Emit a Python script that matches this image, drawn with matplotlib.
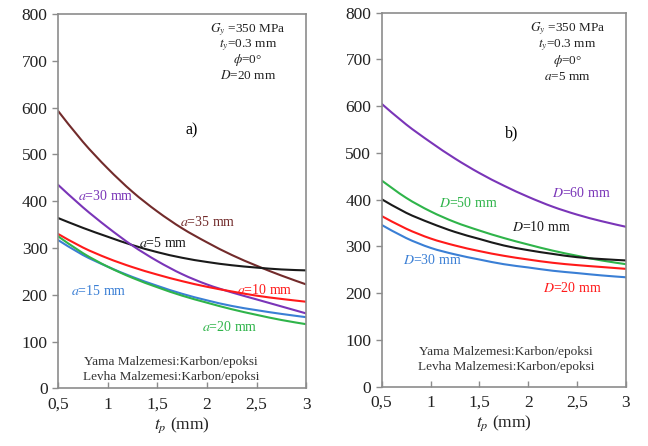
import numpy as np
import matplotlib
matplotlib.use("Agg")
from matplotlib import pyplot as plt
from matplotlib.path import Path
from matplotlib.patches import PathPatch

plt.rcParams["font.family"] = ["Liberation Serif", "DejaVu Serif"]
plt.rcParams["mathtext.fontset"] = "stix"

# data
tp = [0.5, 0.75, 1.0, 1.25, 1.5, 1.75, 2.0, 2.25, 2.5, 2.75, 3.0]

# panel a) : D=20 mm, varying a
a35 = [593, 527, 470, 420, 378, 342, 312, 285, 262, 241, 222]
a5 = [364, 343, 324, 306, 291, 279, 270, 263, 258, 254, 252]
a30 = [435, 387, 344, 305, 272, 244, 222, 205, 190, 175, 160]
a10 = [330, 301, 278, 259, 243, 229, 217, 207, 198, 191, 185]
a15 = [317, 285, 260, 238, 219, 202, 188, 176, 167, 159, 152]
a20 = [325, 289, 260, 236, 216, 198, 183, 169, 157, 146, 137]

# panel b) : a=5 mm, varying D
D60 = [605, 561, 523, 488, 457, 430, 406, 385, 368, 354, 342]
D50 = [441, 404, 375, 352, 334, 318, 304, 291, 280, 270, 262]
D10 = [401, 372, 350, 331, 316, 302, 292, 284, 277, 273, 270]
D20 = [365, 338, 317, 302, 290, 280, 272, 265, 260, 256, 252]
D30 = [346, 318, 297, 283, 272, 262, 255, 248, 243, 238, 234]

xticks = [0.5, 1, 1.5, 2, 2.5, 3]
xticklabels = ["0,5", "1", "1,5", "2", "2,5", "3"]

brown = "#722b2b"
purple = "#7a35b8"
red = "#ff1a1a"
blue = "#3a7fd5"
green = "#2fb44a"
black = "#1a1a1a"


def smooth_line(ax, x, y, color, lw=1.5):
    # excel-like smoothed line: catmull-rom segments drawn as bezier curves
    p = np.column_stack([x, y]).astype(float)
    q = np.vstack([p[0], p, p[-1]])
    verts = [p[0]]
    codes = [Path.MOVETO]
    for i in range(len(p) - 1):
        c1 = q[i + 1] + (q[i + 2] - q[i]) / 6
        c2 = q[i + 2] - (q[i + 3] - q[i + 1]) / 6
        verts += [c1, c2, q[i + 2]]
        codes += [Path.CURVE4] * 3
    ax.add_patch(PathPatch(Path(verts, codes), facecolor="none",
                           edgecolor=color, lw=lw, capstyle="round"))


def style_axes(ax):
    ax.set_xlim(0.5, 3)
    ax.set_ylim(0, 800)
    ax.set_xticks(xticks)
    ax.set_xticklabels(xticklabels)
    ax.set_yticks(range(0, 801, 100))
    for s in ax.spines.values():
        s.set_color("#8c8c8c")
        s.set_linewidth(1.2)
    ax.tick_params(colors="#8c8c8c", labelcolor="#222222", labelsize=12.5,
                   length=4, width=1)
    ax.tick_params(axis="x", direction="in", pad=6)
    ax.set_xlabel("$t_p$ (mm)", fontsize=12.5, color="#222222", labelpad=2)


fig = plt.figure(figsize=(6.48, 4.46), dpi=100)
ax1 = fig.add_axes([0.0895, 0.1294, 0.383, 0.8392])
ax2 = fig.add_axes([0.589, 0.133, 0.377, 0.8386])

for ys, col in [(a35, brown), (a5, black), (a30, purple), (a10, red),
                (a15, blue), (a20, green)]:
    smooth_line(ax1, tp, ys, col)

fs = 10
ax1.text(0.70, 410, "$a$=30 mm", color=purple, fontsize=fs, va="center")
ax1.text(1.73, 356, "$a$=35 mm", color=brown, fontsize=fs, va="center")
ax1.text(1.32, 311, "$a$=5 mm", color=black, fontsize=fs, va="center")
ax1.text(2.30, 210, "$a$=10 mm", color=red, fontsize=fs, va="center")
ax1.text(0.63, 207, "$a$=15 mm", color=blue, fontsize=fs, va="center")
ax1.text(1.95, 130, "$a$=20 mm", color=green, fontsize=fs, va="center")
ax1.text(1.85, 552, "a)", fontsize=11.5, ha="center", va="center")

params_a = ["$G_y$ =350 MPa", "$t_y$=0.3 mm", r"$\phi$=0°", "$D$=20 mm"]
for txt, y in zip(params_a, [767, 734, 701, 669]):
    ax1.text(2.41, y, txt, fontsize=9.5, ha="center", va="center", color="#222222")
ax1.text(1.64, 57, "Yama Malzemesi:Karbon/epoksi", fontsize=9.5,
         ha="center", va="center", color="#333333")
ax1.text(1.64, 25, "Levha Malzemesi:Karbon/epoksi", fontsize=9.5,
         ha="center", va="center", color="#333333")
style_axes(ax1)

for ys, col in [(D60, purple), (D50, green), (D10, black), (D20, red),
                (D30, blue)]:
    smooth_line(ax2, tp, ys, col)

ax2.text(2.24, 414, "$D$=60 mm", color=purple, fontsize=fs, va="center")
ax2.text(1.09, 393, "$D$=50 mm", color=green, fontsize=fs, va="center")
ax2.text(1.83, 342, "$D$=10 mm", color=black, fontsize=fs, va="center")
ax2.text(0.72, 271, "$D$=30 mm", color=blue, fontsize=fs, va="center")
ax2.text(2.15, 211, "$D$=20 mm", color=red, fontsize=fs, va="center")
ax2.text(1.83, 542, "b)", fontsize=11.5, ha="center", va="center")

params_b = ["$G_y$ =350 MPa", "$t_y$=0.3 mm", r"$\phi$=0°", "$a$=5 mm"]
for txt, y in zip(params_b, [765, 730, 697, 662]):
    ax2.text(2.40, y, txt, fontsize=9.5, ha="center", va="center", color="#222222")
ax2.text(1.77, 75, "Yama Malzemesi:Karbon/epoksi", fontsize=9.5,
         ha="center", va="center", color="#333333")
ax2.text(1.77, 43, "Levha Malzemesi:Karbon/epoksi", fontsize=9.5,
         ha="center", va="center", color="#333333")
style_axes(ax2)

fig.savefig("out.png", dpi=100)
